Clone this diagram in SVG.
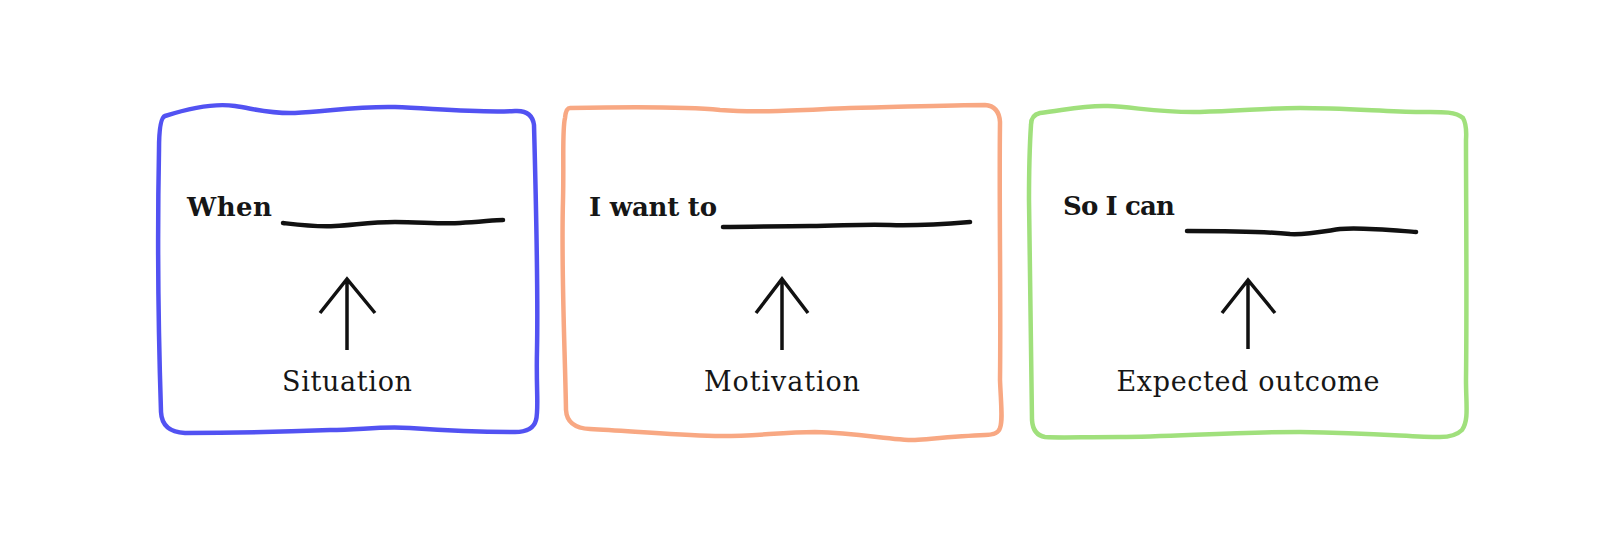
<svg xmlns="http://www.w3.org/2000/svg" width="1600" height="555" viewBox="0 0 1600 555">
  <style>
    .box { fill: none; stroke-width: 4.5; stroke-linecap: round; stroke-linejoin: round; }
    .blue { stroke: #5252f2; }
    .orange { stroke: #f8a883; }
    .green { stroke: #a0e07c; }
    .blank { fill: none; stroke: #111111; stroke-width: 4.5; stroke-linecap: round; }
    .arrow { fill: none; stroke: #111111; stroke-width: 3.5; stroke-linecap: butt; stroke-linejoin: miter; }
    .lead { font-family: "DejaVu Serif", "Liberation Serif", serif; font-weight: bold; font-size: 26px; fill: #161616; }
    .label { font-family: "DejaVu Serif", "Liberation Serif", serif; font-size: 27px; fill: #161616; text-anchor: middle; }
  </style>
  <rect width="1600" height="555" fill="#ffffff"/>

  <g id="situation">
    <path class="box blue" d="M 165 116 C 190 108, 215 103, 235 106 C 255 109, 270 114, 295 113 C 330 111, 360 106, 395 107 C 440 109, 480 113, 515 111 Q 532 110, 534 125 C 536 200, 538 300, 537 350 C 536 390, 539 410, 536 420 Q 533 432, 515 432 C 480 432, 440 430, 410 428 C 380 426, 360 430, 330 430 C 280 432, 230 433, 185 433 Q 162 432, 161 412 C 159 350, 157 250, 159 150 Q 159 118, 165 116 Z"/>
    <text class="lead" x="187" y="216" textLength="85">When</text>
    <path class="blank" d="M 283 223 C 300 225, 315 227, 335 226 C 355 225, 370 222, 395 222 C 420 222, 440 224, 460 223 C 480 222, 495 220, 503 220"/>
    <path class="arrow" d="M 347 350 L 347 279 M 320 313 L 347 279 L 375 313"/>
    <text class="label" x="347" y="391" textLength="130">Situation</text>
  </g>

  <g id="motivation">
    <path class="box orange" d="M 570 108 C 620 107, 680 106, 720 110 C 760 113, 800 110, 850 108 C 900 107, 950 105, 985 105 Q 999 106, 1000 122 C 999 200, 1001 300, 1000 380 C 1001 405, 1003 420, 1000 428 Q 998 435, 985 435 C 960 436, 940 438, 915 440 C 890 440, 860 433, 815 432 C 780 432, 750 437, 715 436 C 670 435, 630 431, 590 429 Q 567 428, 566 410 C 565 350, 561 270, 563 200 C 564 160, 562 130, 565 118 Q 566 108, 570 108 Z"/>
    <text class="lead" x="589" y="216" textLength="128">I want to</text>
    <path class="blank" d="M 723 227 C 750 227, 780 226, 810 226 C 840 226, 860 224, 890 225 C 920 226, 945 224, 970 222"/>
    <path class="arrow" d="M 782 350 L 782 279 M 756 313 L 782 279 L 808 313"/>
    <text class="label" x="782" y="391" textLength="156">Motivation</text>
  </g>

  <g id="expected-outcome">
    <path class="box green" d="M 1040 113 C 1065 110, 1085 105, 1108 106 C 1135 107, 1160 113, 1200 112 C 1240 111, 1270 108, 1300 108 C 1340 108, 1380 111, 1420 112 C 1440 112, 1455 111, 1463 118 Q 1467 125, 1466 140 C 1466 200, 1467 300, 1466 380 C 1466 405, 1469 420, 1462 430 Q 1455 437, 1440 437 C 1410 437, 1380 433, 1300 432 C 1230 432, 1170 437, 1120 437 C 1080 437, 1060 438, 1045 437 Q 1033 435, 1032 420 C 1031 350, 1030 280, 1029 200 C 1029 160, 1030 140, 1031 125 Q 1031 115, 1040 113 Z"/>
    <text class="lead" x="1063" y="215" textLength="112">So I can</text>
    <path class="blank" d="M 1187 231 C 1220 231, 1260 231, 1290 234 C 1305 235, 1320 232, 1340 229 C 1360 227, 1390 230, 1416 232"/>
    <path class="arrow" d="M 1248 349 L 1248 280 M 1222 313 L 1248 280 L 1275 313"/>
    <text class="label" x="1248" y="391" textLength="263">Expected outcome</text>
  </g>
</svg>
